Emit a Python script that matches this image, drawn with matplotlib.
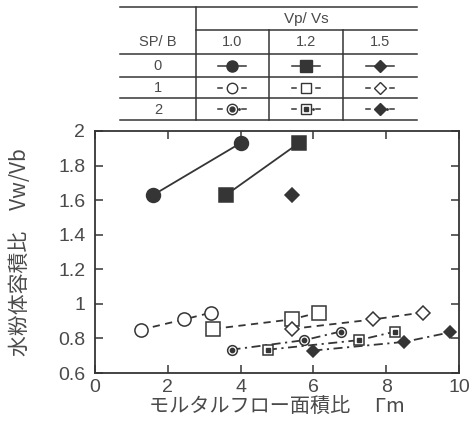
import matplotlib
matplotlib.use("Agg")
import matplotlib.pyplot as plt

plt.rcParams['font.family'] = ['Liberation Sans', 'Noto Sans CJK JP', 'DejaVu Sans']

# data (Vp/Vs = 1.0, 1.2, 1.5 for each SP/B)
sp0_10_x = [1.6, 4.0]
sp0_10_y = [1.63, 1.93]
sp0_12_x = [3.6, 5.6]
sp0_12_y = [1.63, 1.93]
sp0_15_x = [5.4]
sp0_15_y = [1.63]

sp1_10_x = [1.25, 2.45, 3.2]
sp1_10_y = [0.85, 0.91, 0.95]
sp1_12_x = [3.25, 5.4, 6.15]
sp1_12_y = [0.855, 0.91, 0.95]
sp1_15_x = [5.4, 7.65, 9.0]
sp1_15_y = [0.855, 0.91, 0.95]

sp2_10_x = [3.75, 5.75, 6.75]
sp2_10_y = [0.735, 0.79, 0.84]
sp2_12_x = [4.75, 7.25, 8.25]
sp2_12_y = [0.735, 0.79, 0.84]
sp2_15_x = [6.0, 8.5, 9.75]
sp2_15_y = [0.73, 0.78, 0.835]

vpvs_labels = ["1.0", "1.2", "1.5"]
spb_labels = ["0", "1", "2"]

ink = "#353535"
txt = "#4a4a4a"
jp = ['Noto Sans CJK JP', 'DejaVu Sans']

fig = plt.figure(figsize=(4.77, 4.24), dpi=100)
ax = fig.add_axes([95/477, 1-373/424, 364/477, 242/424])


def draw(x, y, ls, marker, ms, face, inner=False):
    ax.plot(x, y, ls=ls, color=ink, lw=1.3, marker=marker, ms=ms,
            mfc=face, mec=ink, mew=1.1)
    if inner:
        ax.plot(x, y, ls='none', marker=marker, ms=ms*0.45, mfc=ink, mec=ink)


draw(sp0_10_x, sp0_10_y, '-', 'o', 10, ink)
draw(sp0_12_x, sp0_12_y, '-', 's', 10, ink)
draw(sp0_15_x, sp0_15_y, '-', 'D', 7.5, ink)

draw(sp1_10_x, sp1_10_y, (0, (4, 3)), 'o', 9.5, 'white')
draw(sp1_12_x, sp1_12_y, (0, (4, 3)), 's', 9.5, 'white')
draw(sp1_15_x, sp1_15_y, (0, (4, 3)), 'D', 7.5, 'white')

draw(sp2_10_x, sp2_10_y, (0, (5, 2.5, 1.2, 2.5)), 'o', 7, 'white', inner=True)
draw(sp2_12_x, sp2_12_y, (0, (5, 2.5, 1.2, 2.5)), 's', 7, 'white', inner=True)
draw(sp2_15_x, sp2_15_y, (0, (5, 2.5, 1.2, 2.5)), 'D', 6.5, ink)

ax.set_xlim(0, 10)
ax.set_ylim(0.6, 2)
ax.set_xticks([0, 2, 4, 6, 8, 10])
ax.set_yticks([0.6, 0.8, 1, 1.2, 1.4, 1.6, 1.8, 2])
ax.set_yticklabels(["0.6", "0.8", "1", "1.2", "1.4", "1.6", "1.8", "2"])
ax.tick_params(direction='in', length=6, width=1.1, top=True, right=True,
               labelsize=14, colors=ink, labelcolor=txt)
ax.tick_params(axis='x', pad=4)
ax.tick_params(axis='y', pad=7)
for s in ax.spines.values():
    s.set_linewidth(1.3)
    s.set_color(ink)

ax.set_xlabel("モルタルフロー面積比　 Γm", fontsize=14.5, color=txt, family=jp,
              va='center')
ax.set_ylabel("水粉体容積比　Vw/Vb", fontsize=15, color=txt, family=jp)
ax.xaxis.set_label_coords(0.5, -0.143)
ax.yaxis.set_label_coords(-0.175, 0.5)

# legend table on top, pixel coordinates
tb = fig.add_axes([0, 0, 1, 1], zorder=-1)
tb.set_xlim(0, 477)
tb.set_ylim(424, 0)
tb.axis('off')

left, c1, c2, c3, right = 120, 196, 269, 343, 417
rows = [7, 30, 54, 77, 98, 120]
for i, r in enumerate(rows):
    x0 = left if i != 1 else c1
    tb.plot([x0, right], [r, r], color=ink, lw=1.1)
tb.plot([c1, c1], [rows[0], rows[-1]], color=ink, lw=1.1)
for c in (c2, c3):
    tb.plot([c, c], [rows[1], rows[-1]], color=ink, lw=1.1)

fs = 10.5
tb.text((c1+right)/2, (rows[0]+rows[1])/2, "Vp/ Vs", ha='center', va='center', fontsize=11, color=txt)
tb.text((left+c1)/2, (rows[1]+rows[2])/2, "SP/ B", ha='center', va='center', fontsize=fs, color=txt)
centers = [(c1+c2)/2, (c2+c3)/2, (c3+right)/2]
for cx, lab in zip(centers, vpvs_labels):
    tb.text(cx, (rows[1]+rows[2])/2, lab, ha='center', va='center', fontsize=fs, color=txt)
for k, lab in enumerate(spb_labels):
    tb.text((left+c1)/2, (rows[k+2]+rows[k+3])/2 + 1, lab, ha='center', va='center', fontsize=fs, color=txt)

markers = ['o', 's', 'D']
for k in range(3):
    cy = (rows[k+2]+rows[k+3])/2
    for j, cx in enumerate(centers):
        m = markers[j]
        if k == 0:
            tb.plot([cx-14, cx+14], [cy, cy], color=ink, lw=1.1)
            tb.plot([cx], [cy], marker=m, ms=8 if m != 'D' else 6.5, color=ink)
        else:
            for d in (-1, 1):
                tb.plot([cx+d*14, cx+d*10], [cy, cy], color=ink, lw=1.1)
            if k == 2:
                tb.plot([cx+7], [cy], marker='.', ms=2, color=ink)
            if k == 2 and m == 'D':
                tb.plot([cx], [cy], marker=m, ms=6.5, color=ink)
            else:
                tb.plot([cx], [cy], marker=m, ms=7.5 if m != 'D' else 6.5,
                        mfc='white', mec=ink, mew=1)
                if k == 2:
                    tb.plot([cx], [cy], marker=m, ms=3.5, color=ink)

fig.savefig("out.png", dpi=100)
